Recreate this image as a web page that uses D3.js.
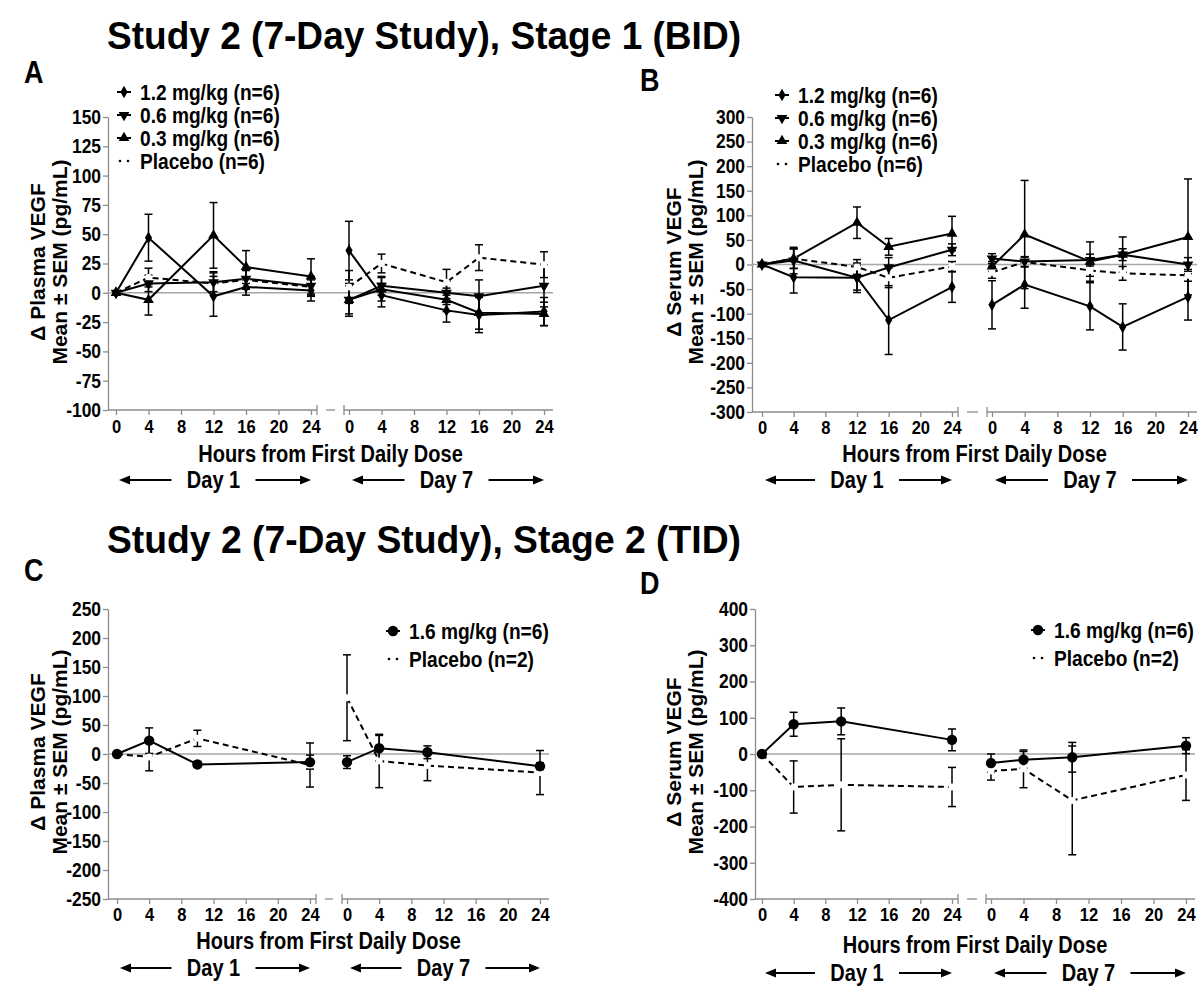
<!DOCTYPE html>
<html lang="en">
<head>
<meta charset="utf-8">
<title>Study 2 VEGF</title>
<script src="https://d3js.org/d3.v7.min.js"></script>
<style>
  body { margin: 0; background: #fff; }
  text { font-family: "Liberation Sans", Arial, sans-serif; font-weight: bold; fill: #000; }
</style>
</head>
<body>
<script>
// time points (hours from first daily dose)
var hoursBID = [0, 4, 12, 16, 24];
var hoursTID = [0, 4, 10, 24];
var xTicks = [0, 4, 8, 12, 16, 20, 24];

// y tick values
var yTicksA = d3.range(-100, 151, 25);
var yTicksB = d3.range(-300, 301, 50);
var yTicksC = d3.range(-250, 251, 50);
var yTicksD = d3.range(-400, 401, 100);

// panel A - plasma VEGF, stage 1 (BID). day 1 values then day 7 values
var aMean12 = [0, 47, -3, 5, 2, 36, -2, -15, -19, -16];
var aSem12  = [0, 20, 17, 7, 9, 25, 10, 10, 15, 12];
var aMean06 = [0, 8, 9, 12, 6, -6, 6, 0, -3, 6];
var aSem06  = [0, 7, 8, 8, 8, 12, 8, 10, 14, 18];
var aMean03 = [0, -6, 49, 22, 14, -6, 3, -6, -17, -18];
var aSem03  = [0, 13, 28, 14, 15, 14, 10, 10, 14, 10];
var aMeanPbo = [0, 13, 8, 11, 5, 5, 25, 9, 30, 24];
var aSemPbo  = [0, 8, 10, 8, 8, 14, 8, 11, 11, 11];

// panel B - serum VEGF, stage 1 (BID)
var bMean12 = [0, -26, -27, -113, -46, -82, -41, -85, -127, -66];
var bSem12  = [0, 32, 30, 70, 31, 49, 48, 48, 47, 47];
var bMean06 = [0, 8, -27, -6, 30, 12, 6, 9, 20, 0];
var bSem06  = [0, 27, 25, 20, 12, 10, 10, 12, 12, 14];
var bMean03 = [0, 12, 85, 36, 63, -4, 61, 6, 20, 56];
var bSem03  = [0, 20, 32, 17, 35, 10, 110, 40, 36, 118];
var bMeanPbo = [0, 12, -5, -27, -4, -16, 5, -12, -18, -22];
var bSemPbo  = [0, 20, 15, 20, 10, 12, 10, 12, 14, 12];

// panel C - plasma VEGF, stage 2 (TID)
var cMean16 = [0, 23, -18, -14, -14, 10, 3, -21];
var cSem16  = [0, 22, 5, 12, 11, 22, 11, 6];
var cMeanPbo = [0, -5, 27, -19, 97, -12, -20, -32];
var cSemPbo  = [0, 24, 14, 38, 74, 46, 26, 38];

// panel D - serum VEGF, stage 2 (TID)
var dMean16 = [0, 82, 90, 39, -25, -16, -9, 23];
var dSem16  = [0, 33, 37, 30, 25, 23, 41, 22];
var dMeanPbo = [0, -91, -85, -91, -47, -41, -128, -58];
var dSemPbo  = [0, 72, 127, 54, 25, 52, 150, 70];

var W = 1201, H = 988;
var K = 0.87; // text in the figure is slightly condensed horizontally
var svg = d3.select("body").append("svg").attr("width", W).attr("height", H);

// titles
svg.append("text").attr("x", 107).attr("y", 49).style("font-size", "38px")
  .attr("textLength", 634).attr("lengthAdjust", "spacingAndGlyphs")
  .text("Study 2 (7-Day Study), Stage 1 (BID)");
svg.append("text").attr("x", 107).attr("y", 553).style("font-size", "38px")
  .attr("textLength", 634).attr("lengthAdjust", "spacingAndGlyphs")
  .text("Study 2 (7-Day Study), Stage 2 (TID)");

var panels = [
  { letter: "A", lx: 24, ly: 83, hours: hoursBID, yDomain: [-100, 150], yTicks: yTicksA,
    axisX: 108, yTop: 117, yBot: 410, x1: [116, 311], x7: [349, 544],
    label1: "\u0394 Plasma VEGF", labX: 38, labY: 262, tickPad: 4,
    legX: 124, legY: 92, legStep: 23, titleY: 462, dayY: 488,
    series: [
      { name: "1.2 mg/kg (n=6)", mean: aMean12, sem: aSem12, sym: "diamond" },
      { name: "0.6 mg/kg (n=6)", mean: aMean06, sem: aSem06, sym: "down" },
      { name: "0.3 mg/kg (n=6)", mean: aMean03, sem: aSem03, sym: "up" },
      { name: "Placebo (n=6)", mean: aMeanPbo, sem: aSemPbo, sym: "pbo" } ] },
  { letter: "B", lx: 640, ly: 91, hours: hoursBID, yDomain: [-300, 300], yTicks: yTicksB,
    axisX: 752, yTop: 117, yBot: 412, x1: [762, 952], x7: [992, 1188],
    label1: "\u0394 Serum VEGF", labX: 674, labY: 262, tickPad: 3,
    legX: 782, legY: 95, legStep: 23, titleY: 462, dayY: 488,
    series: [
      { name: "1.2 mg/kg (n=6)", mean: bMean12, sem: bSem12, sym: "diamond" },
      { name: "0.6 mg/kg (n=6)", mean: bMean06, sem: bSem06, sym: "down" },
      { name: "0.3 mg/kg (n=6)", mean: bMean03, sem: bSem03, sym: "up" },
      { name: "Placebo (n=6)", mean: bMeanPbo, sem: bSemPbo, sym: "pbo" } ] },
  { letter: "C", lx: 24, ly: 581, hours: hoursTID, yDomain: [-250, 250], yTicks: yTicksC,
    axisX: 108, yTop: 609, yBot: 899, x1: [117, 310], x7: [347, 540],
    label1: "\u0394 Plasma VEGF", labX: 38, labY: 752, tickPad: 3,
    legX: 393, legY: 631, legStep: 28, titleY: 949, dayY: 976,
    series: [
      { name: "1.6 mg/kg (n=6)", mean: cMean16, sem: cSem16, sym: "circle" },
      { name: "Placebo (n=2)", mean: cMeanPbo, sem: cSemPbo, sym: "pbo" } ] },
  { letter: "D", lx: 640, ly: 594, hours: hoursTID, yDomain: [-400, 400], yTicks: yTicksD,
    axisX: 755, yTop: 609, yBot: 899, x1: [762, 952], x7: [991, 1186],
    label1: "\u0394 Serum VEGF", labX: 674, labY: 752, tickPad: 3,
    legX: 1038, legY: 630, legStep: 28, titleY: 953, dayY: 981,
    series: [
      { name: "1.6 mg/kg (n=6)", mean: dMean16, sem: dSem16, sym: "circle" },
      { name: "Placebo (n=2)", mean: dMeanPbo, sem: dSemPbo, sym: "pbo" } ] }
];

function symbolPath(sym) {
  if (sym == "diamond") return d3.symbol().type(d3.symbolDiamond).size(45)();
  if (sym == "circle") return d3.symbol().type(d3.symbolCircle).size(85)();
  return d3.symbol().type(d3.symbolTriangle).size(50)();
}

function drawMarker(g, sym, cx, cy) {
  if (sym == "pbo") {
    g.append("circle").attr("cx", cx).attr("cy", cy).attr("r", 3.5).attr("fill", "#fff");
    return;
  }
  var rot = sym == "down" ? 180 : 0;
  g.append("path").attr("d", symbolPath(sym))
    .attr("transform", "translate(" + cx + "," + cy + ") rotate(" + rot + ")")
    .attr("fill", "#000");
}

function arrow(g, xa, xb, yy) {
  // line from xa to xb with head at xb
  var dir = xb > xa ? 1 : -1;
  g.append("line").attr("x1", xa).attr("x2", xb - dir * 8).attr("y1", yy).attr("y2", yy)
    .attr("stroke", "#000").attr("stroke-width", 2);
  g.append("path")
    .attr("d", "M" + xb + "," + yy + "L" + (xb - dir * 11) + "," + (yy - 4.5) + "L" + (xb - dir * 11) + "," + (yy + 4.5) + "Z")
    .attr("fill", "#000");
}

panels.forEach(function(p) {
  var g = svg.append("g");
  var y = d3.scaleLinear().domain(p.yDomain).range([p.yBot, p.yTop]);
  var x1 = d3.scaleLinear().domain([0, 24]).range(p.x1);
  var x7 = d3.scaleLinear().domain([0, 24]).range(p.x7);
  var axisEnd = x7(24) + 9;
  var grey = "#8c8c8c";
  var fmt = function(d) { return String(d); };

  // panel letter
  g.append("text").attr("x", p.lx).attr("y", p.ly).style("font-size", "31px").text(p.letter);

  // y axis label (two lines)
  var lab = g.append("text").attr("class", "ylab")
    .attr("transform", "translate(" + p.labX + "," + p.labY + ") rotate(-90)")
    .attr("text-anchor", "middle").style("font-size", "21px");
  lab.append("tspan").attr("x", 0).attr("dy", "0.35em").text(p.label1);
  lab.append("tspan").attr("x", 0).attr("dy", "1.05em").text("Mean \u00b1 SEM (pg/mL)");

  // y axis
  var ya = g.append("g").attr("transform", "translate(" + p.axisX + ",0)")
    .call(d3.axisLeft(y).tickValues(p.yTicks).tickFormat(fmt).tickSize(5).tickSizeOuter(0).tickPadding(2));
  ya.selectAll("path, line").attr("stroke", grey).attr("stroke-width", 1.3);
  ya.selectAll("text").attr("font-family", null).attr("font-size", null)
    .style("font-size", "20px").attr("fill", "#000");

  // x axes, one per day
  var xa1 = g.append("g").attr("transform", "translate(0," + p.yBot + ")")
    .call(d3.axisBottom(x1).tickValues(xTicks).tickSize(5).tickSizeOuter(0).tickPadding(p.tickPad));
  var xa7 = g.append("g").attr("transform", "translate(0," + p.yBot + ")")
    .call(d3.axisBottom(x7).tickValues(xTicks).tickSize(5).tickSizeOuter(0).tickPadding(p.tickPad));
  [xa1, xa7].forEach(function(a) {
    a.select(".domain").remove();
    a.selectAll("line").attr("stroke", grey).attr("stroke-width", 1.3);
    a.selectAll("text").attr("font-family", null).attr("font-size", null)
      .style("font-size", "19px").attr("fill", "#000");
  });
  var e1 = x1(24) + 6, s7 = x7(0) - 5;
  g.append("line").attr("x1", p.axisX).attr("x2", e1).attr("y1", p.yBot).attr("y2", p.yBot)
    .attr("stroke", grey).attr("stroke-width", 1.3);
  g.append("line").attr("x1", s7).attr("x2", axisEnd).attr("y1", p.yBot).attr("y2", p.yBot)
    .attr("stroke", grey).attr("stroke-width", 1.3);
  [e1, s7].forEach(function(bx) {
    g.append("line").attr("x1", bx).attr("x2", bx).attr("y1", p.yBot - 5).attr("y2", p.yBot + 5)
      .attr("stroke", grey).attr("stroke-width", 1.3);
  });
  g.append("line").attr("x1", e1 + 9).attr("x2", s7 - 9).attr("y1", p.yBot).attr("y2", p.yBot)
    .attr("stroke", grey).attr("stroke-width", 1.3);

  // zero reference line
  g.append("line").attr("x1", p.axisX).attr("x2", axisEnd).attr("y1", y(0)).attr("y2", y(0))
    .attr("stroke", "#a6a6a6").attr("stroke-width", 1.5);

  // axis title and day arrows
  var mid = (p.axisX + axisEnd) / 2;
  g.append("text").attr("x", mid).attr("y", p.titleY).attr("text-anchor", "middle")
    .style("font-size", "23px").text("Hours from First Daily Dose");
  [[x1, "Day 1"], [x7, "Day 7"]].forEach(function(d) {
    var sc = d[0], cx = (sc(0) + sc(24)) / 2;
    g.append("text").attr("x", cx).attr("y", p.dayY).attr("text-anchor", "middle")
      .style("font-size", "23px").text(d[1]);
    arrow(g, cx - 42, sc(0) + 3, p.dayY - 8);
    arrow(g, cx + 42, sc(24), p.dayY - 8);
  });

  // data
  var n = p.hours.length;
  var layerErr = g.append("g"), layerLine = g.append("g"), layerMark = g.append("g");
  // placebo drawn first so drug series sit on top
  var order = p.series.slice().reverse();
  order.forEach(function(s) {
    [x1, x7].forEach(function(sc, di) {
      var pts = p.hours.map(function(h, i) {
        return { x: sc(h), m: s.mean[di * n + i], e: s.sem[di * n + i] };
      });
      pts.forEach(function(d) {
        if (!d.e) return;
        var yt = y(d.m + d.e), yb = y(d.m - d.e);
        layerErr.append("line").attr("x1", d.x).attr("x2", d.x).attr("y1", yt).attr("y2", yb)
          .attr("stroke", "#000").attr("stroke-width", 1.5);
        [yt, yb].forEach(function(yy) {
          layerErr.append("line").attr("x1", d.x - 4).attr("x2", d.x + 4).attr("y1", yy).attr("y2", yy)
            .attr("stroke", "#000").attr("stroke-width", 1.5);
        });
      });
      layerLine.append("path").datum(pts)
        .attr("d", d3.line().x(function(d) { return d.x; }).y(function(d) { return y(d.m); }))
        .attr("fill", "none").attr("stroke", "#000").attr("stroke-width", 2)
        .attr("stroke-dasharray", s.sym == "pbo" ? "6,4" : null);
      pts.forEach(function(d) { drawMarker(layerMark, s.sym, d.x, y(d.m)); });
    });
  });

  // legend
  p.series.forEach(function(s, i) {
    var ly = p.legY + i * p.legStep;
    if (s.sym == "pbo") {
      [-4, 4].forEach(function(dx) {
        g.append("circle").attr("cx", p.legX + dx).attr("cy", ly).attr("r", 1.3).attr("fill", "#000");
      });
    } else {
      g.append("line").attr("x1", p.legX - 7).attr("x2", p.legX + 7).attr("y1", ly).attr("y2", ly)
        .attr("stroke", "#000").attr("stroke-width", 2);
      drawMarker(g, s.sym, p.legX, ly);
    }
    g.append("text").attr("x", p.legX + 16).attr("y", ly).attr("dy", "0.35em")
      .style("font-size", "22px").text(s.name);
  });
});

// squeeze the horizontal text a little, like the source figure
svg.selectAll("text").filter(function() {
  return !this.classList.contains("ylab") && !this.hasAttribute("textLength");
}).each(function() {
  var t = d3.select(this);
  var x = +t.attr("x") || 0, yy = +t.attr("y") || 0;
  t.attr("transform", "translate(" + x + "," + yy + ") scale(" + K + ",1)").attr("x", 0).attr("y", 0);
});
</script>
</body>
</html>
